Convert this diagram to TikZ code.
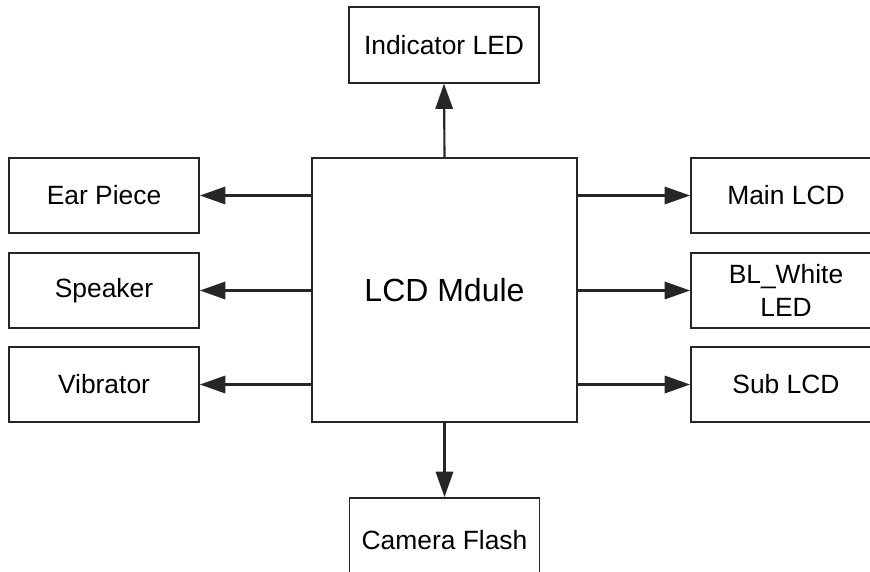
\documentclass[tikz,border=0pt]{standalone}
\usepackage{fontspec}
\setmainfont{Liberation Sans}
\usetikzlibrary{arrows.meta}
\begin{document}
\begin{tikzpicture}[x=0.75pt,y=-0.75pt,
  box/.style={draw=black!85, line width=1.4pt, rectangle, inner sep=0pt, align=center,
    minimum width=142.5pt, minimum height=56.5pt, font=\fontsize{19.8pt}{24.5pt}\selectfont},
  conn/.style={draw=black!85, line width=1.6pt, -{Triangle[length=19pt,width=13pt]}}]
\useasboundingbox (0,0) rectangle (870,571);
\clip (0,0) rectangle (870,571);
\node[box, minimum width=198.75pt, minimum height=198pt, font=\fontsize{24pt}{29pt}\selectfont] (main) at (444.5,290) {LCD Mdule};
\node[box] (ind) at (444,45) {Indicator LED};
\node[box, minimum height=63pt] (cam) at (444.5,540) {Camera Flash};
\node[box] (ear) at (104,195.5) {Ear Piece};
\node[box] (spk) at (104,290.5) {Speaker};
\node[box] (vib) at (104,384.5) {Vibrator};
\node[box] (mlcd) at (786,195.5) {Main LCD};
\node[box] (bl) at (786,290.5) {BL\_White\\LED};
\node[box] (slcd) at (786,384.5) {Sub LCD};
\draw[conn] (main.north) -- (ind.south);
\draw[conn] (main.south) -- (cam.north);
\draw[conn] (main.west |- ear.east) -- (ear.east);
\draw[conn] (main.west |- spk.east) -- (spk.east);
\draw[conn] (main.west |- vib.east) -- (vib.east);
\draw[conn] (main.east |- mlcd.west) -- (mlcd.west);
\draw[conn] (main.east |- bl.west) -- (bl.west);
\draw[conn] (main.east |- slcd.west) -- (slcd.west);
\end{tikzpicture}
\end{document}
